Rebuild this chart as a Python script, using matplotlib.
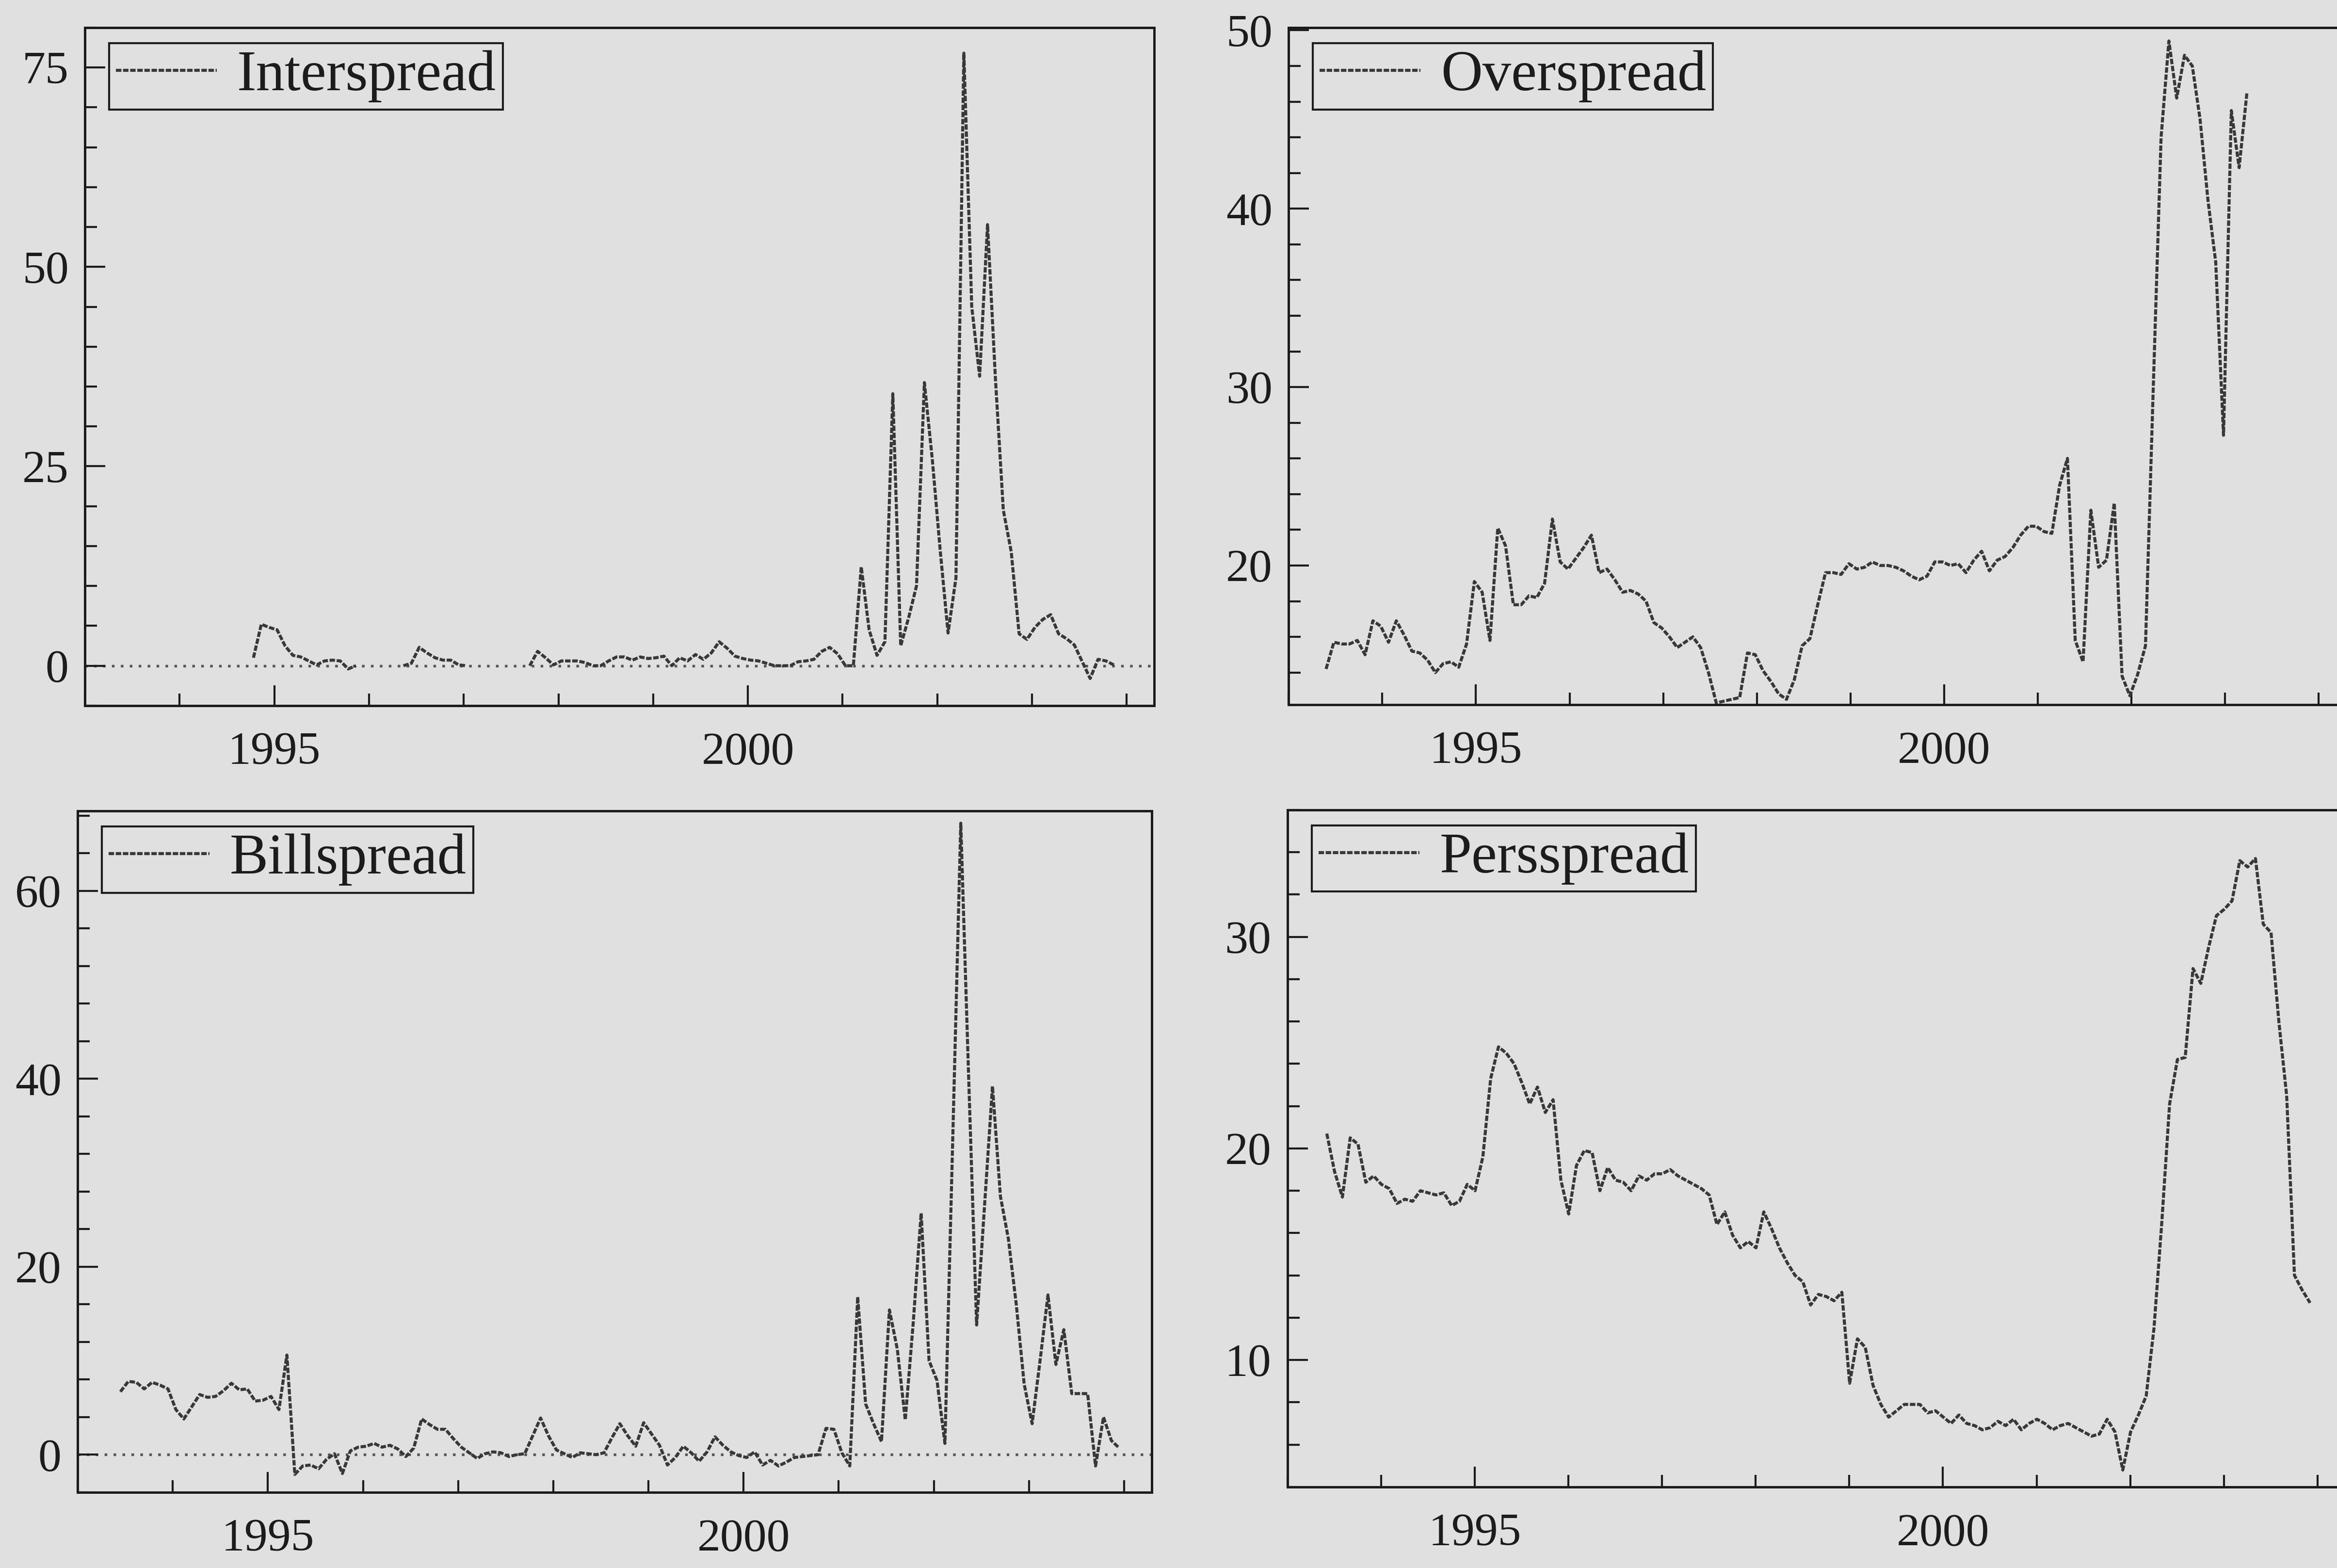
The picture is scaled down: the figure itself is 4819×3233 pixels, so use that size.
"""
plot.py

Four monthly spread series (1993-2003) drawn as a 2x2 panel chart,
styled after a scanned econometrics printout.
"""

import numpy as np
import matplotlib
matplotlib.use("Agg")
import matplotlib.pyplot as plt
from matplotlib.ticker import MultipleLocator, FormatStrFormatter

# -----------------------------
# Data (monthly)
# first value sits at the given decimal year, one step = one month
# -----------------------------
inter_start = 1994.78
inter_values = [
    1.0, 5.2, 4.8, 4.5, 2.5, 1.3, 1.1, 0.6, 0.1, 0.6, 0.7, 0.6, -0.4,
    0.0, None, None, None, None, None, 0.0,
    0.3, 2.3, 1.6, 1.0, 0.7, 0.7, 0.1,
    0.0, None, None, None, None, None, None, None, 0.0,
    1.8, 1.0, 0.1,
    0.6, 0.6, 0.6, 0.4, 0.0, 0.0, 0.6, 1.1, 1.1, 0.7, 1.1, 0.9,
    1.0, 1.2, 0.0, 1.0, 0.6, 1.4, 0.8, 1.6, 3.0, 2.2, 1.2, 0.9,
    0.7, 0.6, 0.3, 0.0, 0.0, 0.0, 0.5, 0.6, 0.8, 1.8, 2.3, 1.5,
    0.0, 0.0, 12.4, 4.5, 1.3, 3.0, 34.1, 2.5, 6.0, 10.0, 35.5, 25.9,
    14.5, 4.1, 11.0, 76.8, 45.0, 36.3, 55.3, 36.0, 19.5, 14.3, 4.0, 3.3,
    4.8, 5.8, 6.4, 4.0, 3.4, 2.6, 0.5, -1.6, 0.8, 0.6, 0.1,
]

over_start = 1993.40
over_values = [
    14.2, 15.7, 15.6, 15.6, 15.8, 15.0, 16.9,
    16.6, 15.7, 16.9, 16.1, 15.2, 15.1, 14.7, 14.0, 14.5, 14.6, 14.3, 15.6,
    19.1, 18.5, 15.8, 22.1, 21.1, 17.8, 17.8, 18.3, 18.2, 19.0, 22.6, 20.2,
    19.8, 20.4, 21.0, 21.7, 19.6, 19.8, 19.2, 18.5, 18.6, 18.4, 18.0, 16.8,
    16.5, 16.0, 15.4, 15.7, 16.0, 15.4, 14.0, 12.3, 12.4, 12.5, 12.6, 15.1,
    15.0, 14.1, 13.5, 12.8, 12.5, 13.6, 15.5, 15.9, 17.8, 19.6, 19.6, 19.5,
    20.1, 19.8, 19.9, 20.2, 20.0, 20.0, 19.9, 19.7, 19.4, 19.2, 19.4, 20.2,
    20.2, 20.0, 20.1, 19.6, 20.3, 20.8, 19.7, 20.3, 20.5, 21.0, 21.7, 22.2,
    22.2, 21.9, 21.8, 24.5, 26.0, 15.8, 14.6, 23.1, 19.9, 20.3, 23.5, 13.8,
    12.7, 13.9, 15.5, 30.0, 44.0, 49.4, 46.2, 48.6, 48.0, 45.0, 40.5, 37.0,
    27.3, 45.5, 42.3, 46.5,
]

bill_start = 1993.45
bill_values = [
    6.7, 7.8, 7.7, 7.0, 7.7, 7.4, 7.0,
    4.8, 3.8, 5.1, 6.4, 6.1, 6.2, 6.8, 7.6, 6.9, 7.0, 5.7, 5.8,
    6.2, 4.8, 10.6, -2.1, -1.2, -1.1, -1.5, -0.5, 0.1, -2.0, 0.4, 0.8,
    0.9, 1.2, 0.8, 1.0, 0.6, -0.2, 0.7, 3.8, 3.2, 2.7, 2.7, 1.7,
    0.8, 0.2, -0.4, 0.1, 0.3, 0.2, -0.2, 0.0, 0.1, 2.0, 3.9, 2.0,
    0.5, 0.1, -0.3, 0.2, 0.1, 0.0, 0.2, 1.8, 3.3, 2.0, 0.9, 3.4,
    2.2, 1.0, -1.1, -0.3, 0.9, 0.2, -0.7, 0.3, 1.9, 1.0, 0.3, -0.1,
    -0.3, 0.3, -1.1, -0.6, -1.2, -0.8, -0.3, -0.2, -0.1, 0.0, 2.8, 2.7,
    0.2, -1.2, 16.8, 5.4, 3.3, 1.4, 15.4, 11.2, 3.7, 14.0, 25.7, 10.0,
    7.9, 1.2, 34.0, 67.2, 40.0, 13.8, 26.5, 39.2, 27.5, 23.0, 16.0, 7.5,
    3.3, 10.0, 17.0, 9.6, 13.3, 6.5, 6.5, 6.5, -1.2, 4.0, 1.5, 0.7,
]

pers_start = 1993.42
pers_values = [
    20.7, 18.9, 17.7, 20.5, 20.2, 18.4, 18.7,
    18.3, 18.1, 17.4, 17.6, 17.5, 18.0, 17.9, 17.8, 17.9, 17.3, 17.5, 18.3,
    18.0, 19.6, 23.3, 24.8, 24.5, 24.0, 23.1, 22.1, 22.9, 21.7, 22.3, 18.5,
    16.9, 19.2, 19.9, 19.8, 18.0, 19.1, 18.5, 18.4, 18.0, 18.7, 18.5, 18.8,
    18.8, 19.0, 18.7, 18.5, 18.3, 18.1, 17.8, 16.4, 17.0, 15.9, 15.3, 15.6,
    15.3, 17.0, 16.2, 15.3, 14.6, 14.0, 13.7, 12.6, 13.1, 13.0, 12.8, 13.2,
    8.9, 11.0, 10.6, 8.8, 7.9, 7.3, 7.6, 7.9, 7.9, 7.9, 7.5, 7.6,
    7.3, 7.0, 7.4, 7.0, 6.9, 6.7, 6.8, 7.1, 6.9, 7.2, 6.7, 7.0,
    7.2, 7.0, 6.7, 6.9, 7.0, 6.8, 6.6, 6.4, 6.5, 7.2, 6.6, 4.8,
    6.6, 7.4, 8.3, 11.5, 16.5, 22.1, 24.2, 24.3, 28.5, 27.8, 29.5, 31.0,
    31.3, 31.7, 33.6, 33.3, 33.7, 30.6, 30.2, 26.0, 22.5, 14.0, 13.3, 12.7,
]

panel_names = ["Interspread", "Overspread", "Billspread", "Persspread"]


def monthly_x(start, values):
    return start + np.arange(len(values)) / 12.0


def main():

    bg = "#e0e0e0"
    ink = "#1c1c1c"
    line_col = "#383838"

    plt.rcParams["font.family"] = ["Liberation Serif", "DejaVu Serif"]

    fig = plt.figure(figsize=(4819 / 300, 3233 / 300), dpi=300, facecolor=bg)

    # name, start, values, axes box, ylim, y major, y minor, zero line
    panels = [
        (panel_names[0], inter_start, inter_values,
         [0.0363, 0.5500, 0.4576, 0.4324], (-5.0, 80.0), 25, 5, True),
        (panel_names[1], over_start, over_values,
         [0.5514, 0.5506, 0.4524, 0.4318], (12.2, 50.15), 10, 2, False),
        (panel_names[2], bill_start, bill_values,
         [0.0332, 0.0483, 0.4596, 0.4345], (-4.0, 68.5), 20, 4, True),
        (panel_names[3], pers_start, pers_values,
         [0.5509, 0.0517, 0.4524, 0.4318], (4.0, 36.0), 10, 2, False),
    ]

    for name, start, values, box, ylim, y_major, y_minor, zero_line in panels:

        ax = fig.add_axes(box)
        ax.set_facecolor(bg)

        x = monthly_x(start, values)
        y = np.array([np.nan if v is None else v for v in values], dtype=float)

        if zero_line:
            ax.axhline(0, color="#555555", lw=1.3, ls=(0, (1, 2.4)), zorder=1)

        ax.plot(x, y, color=line_col, lw=1.5, ls=(0, (1.8, 0.55)),
                label=name, zorder=2)

        ax.set_xlim(1993.0, 2004.29)
        ax.set_ylim(*ylim)

        ax.xaxis.set_major_locator(MultipleLocator(5))
        ax.xaxis.set_minor_locator(MultipleLocator(1))
        ax.xaxis.set_major_formatter(FormatStrFormatter("%d"))
        ax.yaxis.set_major_locator(MultipleLocator(y_major))
        ax.yaxis.set_minor_locator(MultipleLocator(y_minor))
        ax.yaxis.set_major_formatter(FormatStrFormatter("%d"))

        ax.tick_params(which="both", direction="in", top=False, right=False,
                       color=ink, width=1.0, labelcolor=ink, labelsize=23)
        ax.tick_params(which="major", length=10)
        ax.tick_params(which="minor", length=6)
        ax.tick_params(axis="x", pad=13)
        ax.tick_params(axis="y", pad=8)

        for spine in ax.spines.values():
            spine.set_color(ink)
            spine.set_linewidth(1.2)

        # Legend box in the upper left corner
        fig_w = 4819 * box[2]
        fig_h = 3233 * box[3]
        leg = ax.legend(loc="upper left",
                        bbox_to_anchor=(50 / fig_w, 1 - 32 / fig_h),
                        borderaxespad=0, fancybox=False, framealpha=1,
                        facecolor=bg, edgecolor=ink, fontsize=28.5,
                        handlelength=1.75, handletextpad=0.35,
                        borderpad=0.12, labelcolor=ink)
        leg.get_frame().set_linewidth(1.0)

    fig.savefig("out.png", dpi=300, facecolor=bg)
    plt.close(fig)


if __name__ == "__main__":
    main()
